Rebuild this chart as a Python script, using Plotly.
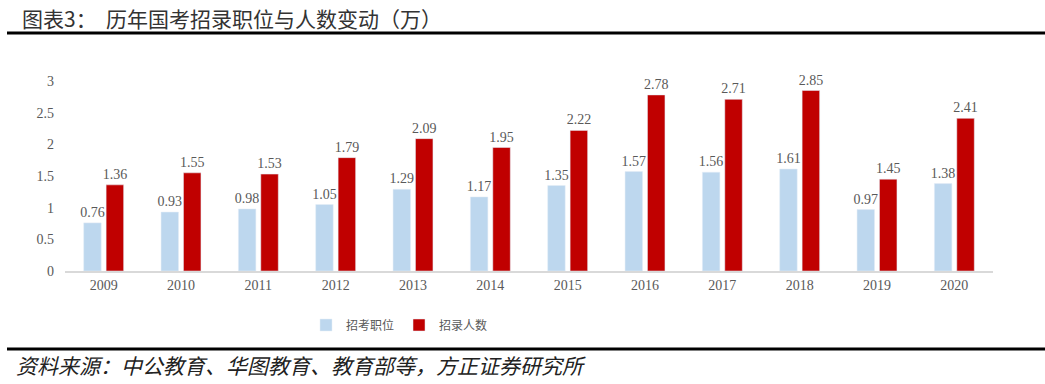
import plotly.graph_objects as go

years = ["2009", "2010", "2011", "2012", "2013", "2014", "2015", "2016", "2017", "2018", "2019", "2020"]
positions = [0.76, 0.93, 0.98, 1.05, 1.29, 1.17, 1.35, 1.57, 1.56, 1.61, 0.97, 1.38]
recruits = [1.36, 1.55, 1.53, 1.79, 2.09, 1.95, 2.22, 2.78, 2.71, 2.85, 1.45, 2.41]
yticks = [0, 0.5, 1, 1.5, 2, 2.5, 3]
ytick_text = ["0", "0.5", "1", "1.5", "2", "2.5", "3"]

serif = "Liberation Serif, Times New Roman, serif"
cjk = "Noto Sans CJK SC"
gray = "#595959"

W, H = 1045, 384
ML, MR, MT, MB = 65, 52, 62, 113
ph = H - MT - MB
pw = W - ML - MR


def py(ypix):
    return (H - MB - ypix) / ph


def px(xpix):
    return (xpix - ML) / pw


fig = go.Figure()
fig.add_trace(go.Bar(
    x=years, y=positions, name="招考职位",
    marker=dict(color="#BDD7EE"),
    text=[f"{v:.2f}" for v in positions], textposition="outside",
    constraintext="none",
    textfont=dict(family=serif, size=14, color=gray), cliponaxis=False,
))
fig.add_trace(go.Bar(
    x=years, y=recruits, name="招录人数",
    marker=dict(color="#C00000"),
    text=[f"{v:.2f}" for v in recruits], textposition="outside",
    constraintext="none",
    textfont=dict(family=serif, size=14, color=gray), cliponaxis=False,
))

fig.update_layout(
    width=W, height=H,
    margin=dict(l=ML, r=MR, t=MT, b=MB, autoexpand=False),
    paper_bgcolor="white", plot_bgcolor="white",
    barmode="group", bargap=0.42, bargroupgap=0.22,
    showlegend=True,
    legend=dict(orientation="h", x=px(306), xanchor="left",
                y=py(325), yanchor="middle",
                font=dict(family=cjk, size=12, color=gray),
                itemwidth=30, traceorder="normal"),
    xaxis=dict(showline=True, linecolor="#D9D9D9", linewidth=1.5,
               showgrid=False, ticks="",
               tickfont=dict(family=serif, size=14, color=gray)),
    yaxis=dict(range=[0, 3.3], tickvals=yticks, ticktext=ytick_text,
               showgrid=False, showline=False, zeroline=False, ticks="",
               tickfont=dict(family=serif, size=14, color=gray), ticklabelstandoff=10),
)

fig.add_annotation(text="图表3：  历年国考招录职位与人数变动（万）", xref="paper", yref="paper",
                   x=px(20), y=py(18), xanchor="left", yanchor="middle",
                   font=dict(family=cjk, size=21, color="#333333"), showarrow=False)

fig.add_annotation(text="<i>资料来源：中公教育、华图教育、教育部等，方正证券研究所</i>",
                   xref="paper", yref="paper", x=px(14), xanchor="left",
                   y=py(365), yanchor="middle",
                   font=dict(family=cjk, size=21, color="#222222"), showarrow=False)

fig.add_shape(type="line", xref="paper", yref="paper", x0=px(7), x1=px(1045), y0=py(33), y1=py(33),
              line=dict(color="#000000", width=3))
fig.add_shape(type="line", xref="paper", yref="paper", x0=px(7), x1=px(1045), y0=py(349), y1=py(349),
              line=dict(color="#000000", width=3))

fig.write_html("out.html", config={"displayModeBar": False},
               post_script="document.body.style.margin='0';")
